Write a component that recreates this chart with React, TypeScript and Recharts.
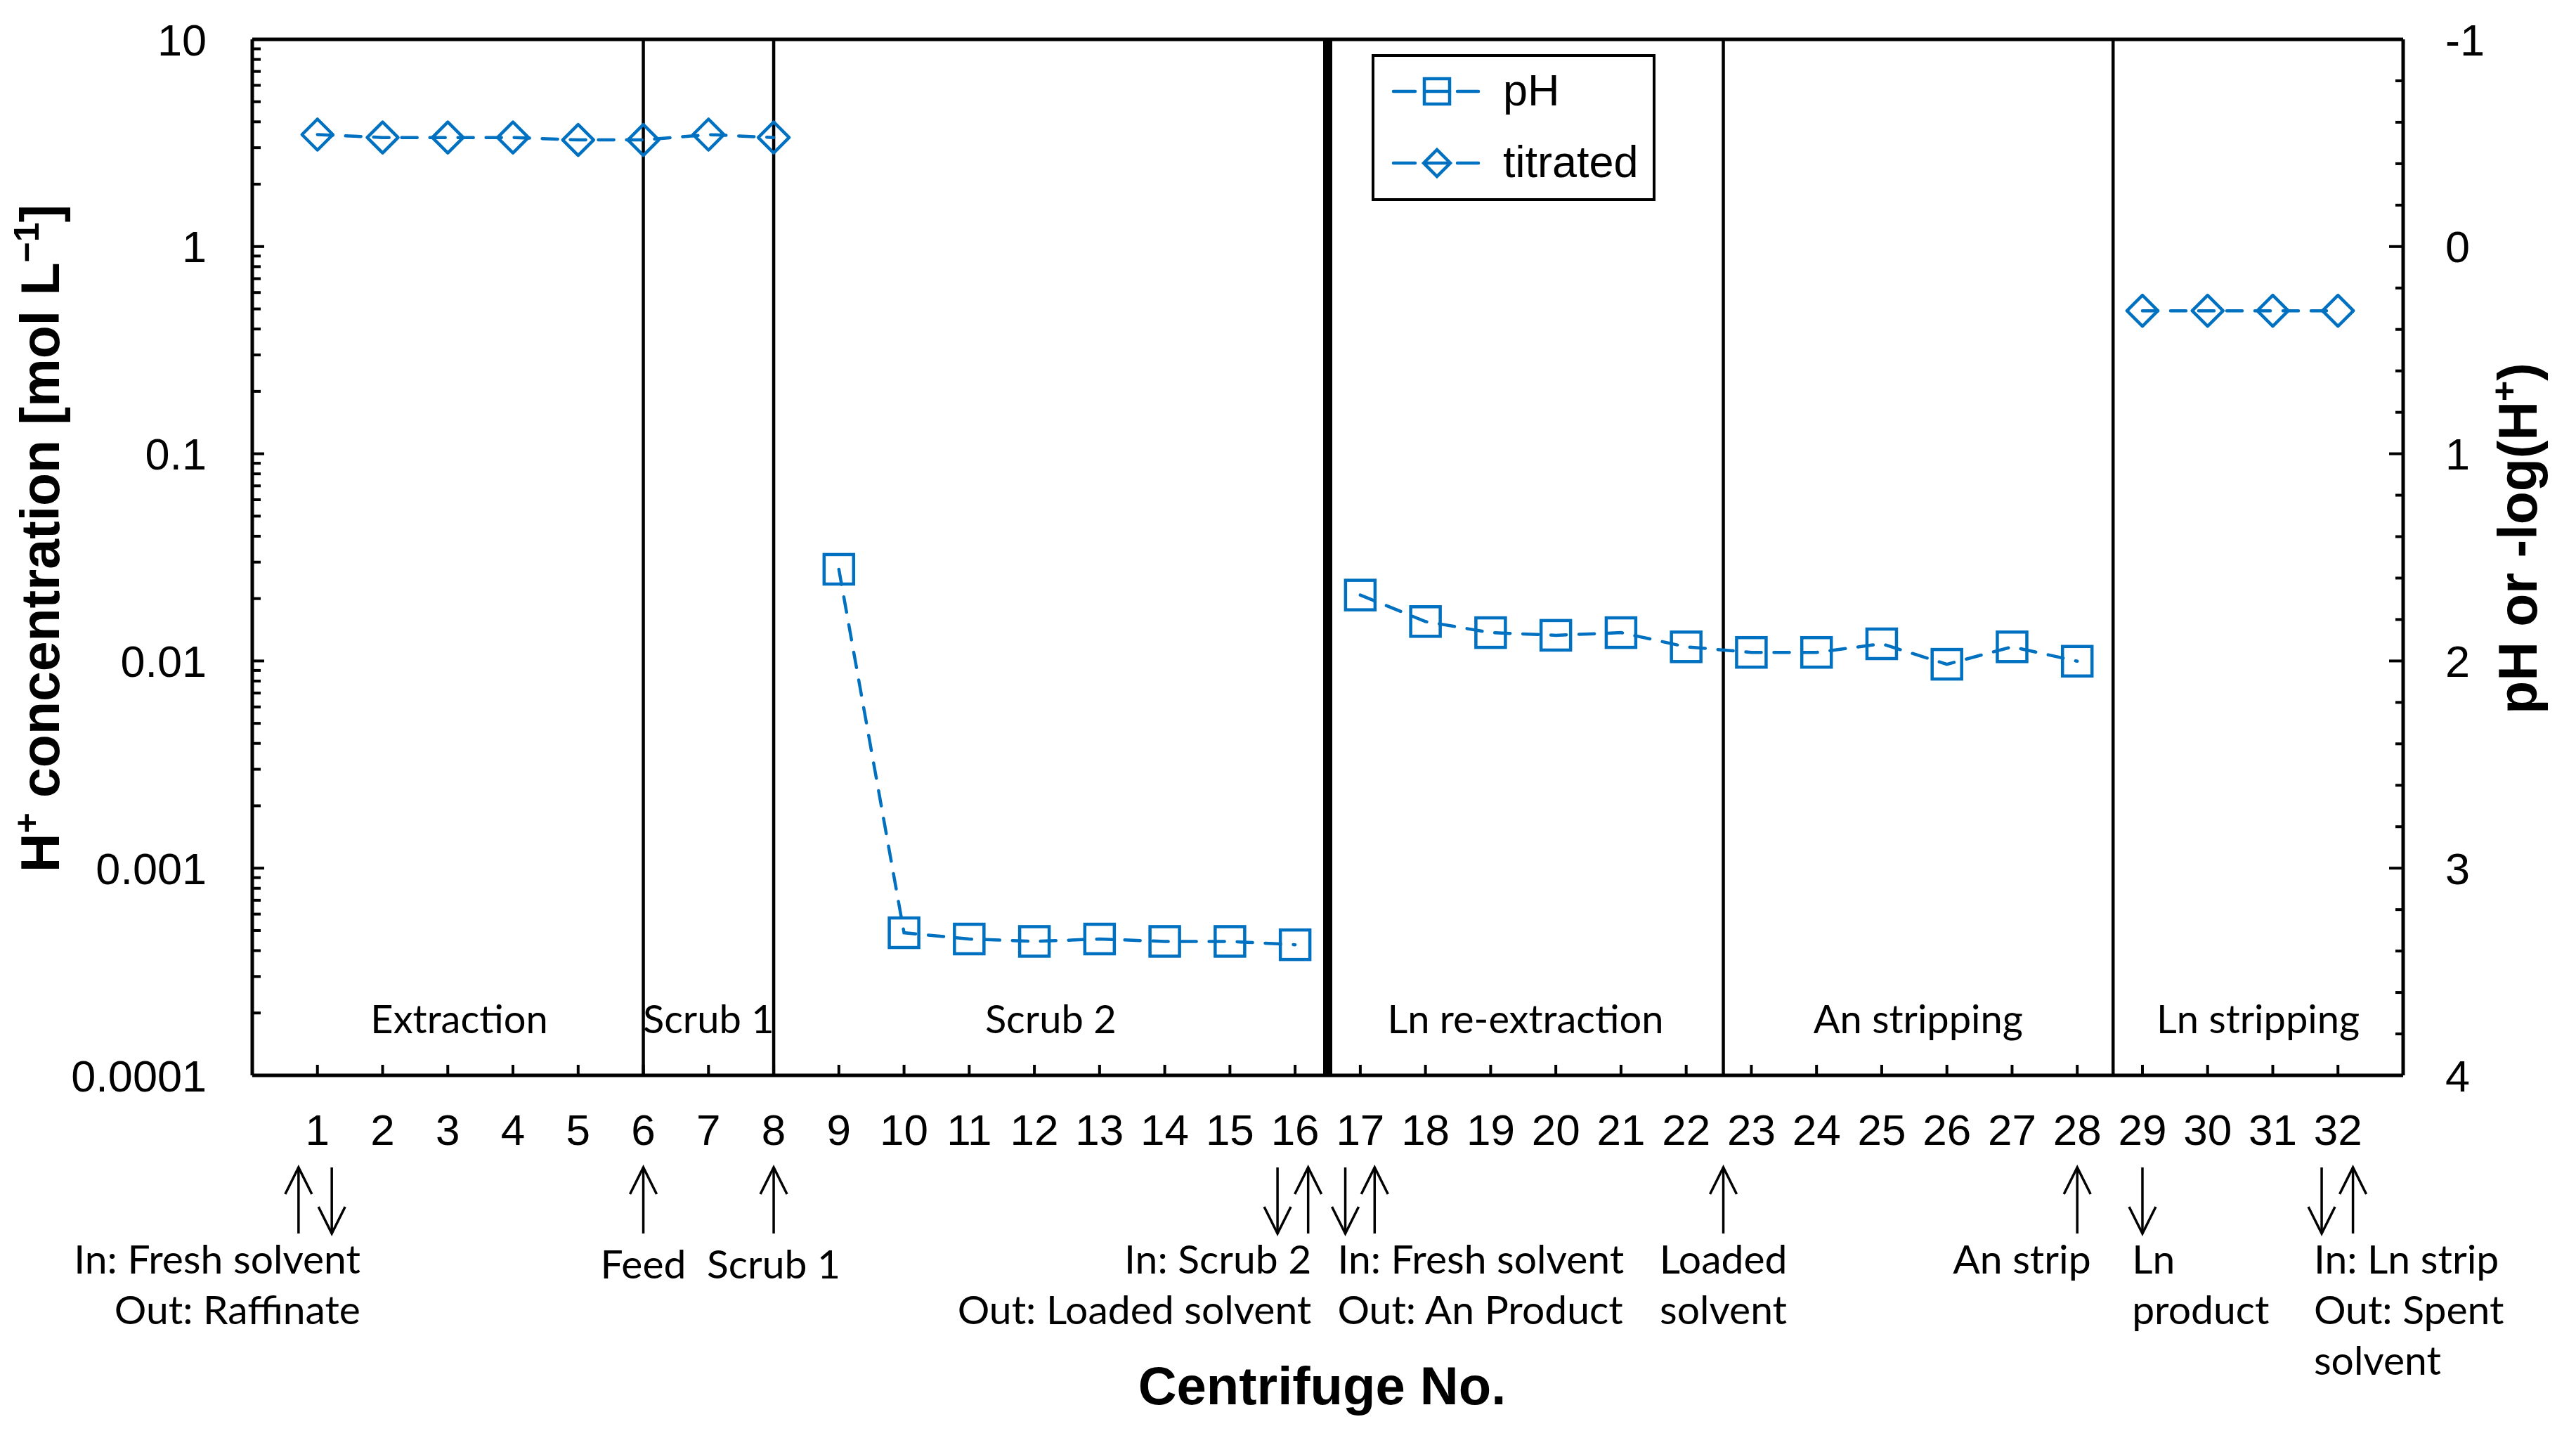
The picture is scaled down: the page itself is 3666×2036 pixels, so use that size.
import React from "react";
import {
  LineChart,
  Line,
  XAxis,
  YAxis,
  ReferenceLine,
  ReferenceArea,
  Legend,
} from "recharts";

// centrifuge numbers along the x axis
const centrifuges = [
  1, 2, 3, 4, 5, 6, 7, 8, 9, 10, 11, 12, 13, 14, 15, 16,
  17, 18, 19, 20, 21, 22, 23, 24, 25, 26, 27, 28, 29, 30, 31, 32,
];

// H+ from pH measurement [mol/L]
const pH = [
  null, null, null, null, null, null, null, null,
  0.0277, 0.000488, 0.000455, 0.000443, 0.000455, 0.000443, 0.000443, 0.000427,
  0.0208, 0.0155, 0.0137, 0.0133, 0.0137, 0.0117, 0.011, 0.011,
  0.0121, 0.00964, 0.0117, 0.00997, null, null, null, null,
];

// H+ from titration [mol/L]
const titrated = [
  3.47, 3.36, 3.36, 3.36, 3.27, 3.27, 3.47, 3.36,
  null, null, null, null, null, null, null, null,
  null, null, null, null, null, null, null, null,
  null, null, null, null, 0.49, 0.49, 0.49, 0.49,
];

const concTicks = [0.0001, 0.001, 0.01, 0.1, 1, 10];
const pHTicks = [-1, 0, 1, 2, 3, 4];

const stages = [
  { name: "Extraction", from: 0.35, to: 6 },
  { name: "Scrub 1", from: 6, to: 8 },
  { name: "Scrub 2", from: 8, to: 16.5 },
  { name: "Ln re-extraction", from: 16.5, to: 22.57 },
  { name: "An stripping", from: 22.57, to: 28.55 },
  { name: "Ln stripping", from: 28.55, to: 33 },
];
const dividers = [6, 8, 16.5, 22.57, 28.55];
const mainDivider = 16.5;

const flows = [
  { at: 0.71, dir: "up" },
  { at: 1.22, dir: "down" },
  { at: 6, dir: "up" },
  { at: 8, dir: "up" },
  { at: 15.73, dir: "down" },
  { at: 16.2, dir: "up" },
  { at: 16.77, dir: "down" },
  { at: 17.22, dir: "up" },
  { at: 22.57, dir: "up" },
  { at: 28, dir: "up" },
  { at: 29, dir: "down" },
  { at: 31.75, dir: "down" },
  { at: 32.23, dir: "up" },
];

const notes = [
  { at: 1.66, anchor: "end", lines: ["In: Fresh solvent", "Out: Raffinate"] },
  { at: 6, anchor: "middle", lines: ["Feed"], low: true },
  { at: 8, anchor: "middle", lines: ["Scrub 1"], low: true },
  { at: 16.25, anchor: "end", lines: ["In: Scrub 2", "Out: Loaded solvent"] },
  { at: 16.65, anchor: "start", lines: ["In: Fresh solvent", "Out: An Product"] },
  { at: 22.57, anchor: "middle", lines: ["Loaded", "solvent"] },
  { at: 28.21, anchor: "end", lines: ["An strip"] },
  { at: 28.84, anchor: "start", lines: ["Ln", "product"] },
  { at: 31.63, anchor: "start", lines: ["In: Ln strip", "Out: Spent", "solvent"] },
];

const W = 3666;
const H = 2036;
const BLUE = "#0070C0";
const ARIAL = "'Liberation Sans', Arial, sans-serif";
const CALIBRI = "Lato, 'Open Sans', sans-serif";
const LEFT_GAP = 65;
const RIGHT_GAP = 60;
const X_GAP = 55;

const concAllTicks = [
  ...concTicks,
  ...concTicks.slice(0, -1).flatMap((d) =>
    [2, 3, 4, 5, 6, 7, 8, 9].map((m) => d * m)
  ),
];
const pHAllTicks = Array.from({ length: 26 }, (_, i) => Math.round((-1 + i * 0.2) * 10) / 10);

const rows = centrifuges.map((n, i) => ({
  n,
  titrated: titrated[i],
  phScrub: n < mainDivider ? pH[i] : null,
  phStrip: n > mainDivider ? pH[i] : null,
}));

const SquareDot = (props: any) => {
  const { cx, cy, value } = props;
  if (cx == null || cy == null || value == null) return null;
  return (
    <rect x={cx - 21} y={cy - 21} width={42} height={42} fill="none" stroke={BLUE} strokeWidth={4.5} />
  );
};

const DiamondDot = (props: any) => {
  const { cx, cy, value } = props;
  if (cx == null || cy == null || value == null) return null;
  return (
    <polygon
      points={`${cx - 22},${cy} ${cx},${cy - 22} ${cx + 22},${cy} ${cx},${cy + 22}`}
      fill="none"
      stroke={BLUE}
      strokeWidth={4.5}
      strokeLinejoin="round"
    />
  );
};

const ConcTick = (props: any) => {
  const { x, y, payload } = props;
  const axisX = x + LEFT_GAP;
  const major = concTicks.includes(payload.value);
  return (
    <g>
      <line x1={axisX} x2={axisX + (major ? 17 : 12)} y1={y} y2={y} stroke="#000" strokeWidth={4} />
      {major && (
        <text x={x} y={y} dy="0.36em" textAnchor="end" fontFamily={ARIAL} fontSize={63} fill="#000">
          {String(payload.value)}
        </text>
      )}
    </g>
  );
};

const PHTick = (props: any) => {
  const { x, y, payload } = props;
  const axisX = x - RIGHT_GAP;
  const major = pHTicks.includes(payload.value);
  return (
    <g>
      <line x1={axisX} x2={axisX - (major ? 20 : 11)} y1={y} y2={y} stroke="#000" strokeWidth={4} />
      {major && (
        <text x={x} y={y} dy="0.36em" textAnchor="start" fontFamily={ARIAL} fontSize={63} fill="#000">
          {String(payload.value)}
        </text>
      )}
    </g>
  );
};

const CentTick = (props: any) => {
  const { x, y, payload } = props;
  const axisY = y - X_GAP;
  return (
    <g>
      <line x1={x} x2={x} y1={axisY} y2={axisY - 15} stroke="#000" strokeWidth={4} />
      <text x={x} y={y} dy="0.71em" textAnchor="middle" fontFamily={ARIAL} fontSize={62} fill="#000">
        {payload.value}
      </text>
    </g>
  );
};

const StageLabel = (props: any) => {
  const vb = props.viewBox || {};
  return (
    <text
      x={vb.x + vb.width / 2}
      y={vb.y + vb.height - 60}
      textAnchor="middle"
      fontFamily={CALIBRI}
      fontSize={56}
      fill="#000"
    >
      {props.name}
    </text>
  );
};

const FlowArrow = (props: any) => {
  const vb = props.viewBox || {};
  const x = vb.x;
  const base = vb.y + vb.height;
  const y1 = base + 131;
  const y2 = base + 225;
  const up = props.dir === "up";
  const tip = up ? y1 : y2;
  const s = up ? 1 : -1;
  return (
    <g stroke="#000" strokeWidth={3.5} fill="none">
      <line x1={x} y1={y1} x2={x} y2={y2} />
      <polyline points={`${x - 19},${tip + s * 38} ${x},${tip} ${x + 19},${tip + s * 38}`} />
    </g>
  );
};

const FlowNote = (props: any) => {
  const vb = props.viewBox || {};
  const base = vb.y + vb.height + (props.low ? 289 : 282);
  return (
    <text textAnchor={props.anchor} fontFamily={CALIBRI} fontSize={57} fill="#000">
      {props.lines.map((t: string, i: number) => (
        <tspan key={i} x={vb.x} y={base + i * 72}>
          {t}
        </tspan>
      ))}
    </text>
  );
};

const LeftTitle = (props: any) => {
  const vb = props.viewBox || {};
  const x = vb.x + 84;
  const y = vb.y + vb.height / 2 - 27;
  return (
    <text
      x={x}
      y={y}
      transform={`rotate(-90, ${x}, ${y})`}
      textAnchor="middle"
      fontFamily={ARIAL}
      fontWeight="bold"
      fontSize={77}
      fill="#000"
    >
      H<tspan dy={-29} fontSize={50}>+</tspan>
      <tspan dy={29}> concentration [mol L</tspan>
      <tspan dy={-29} fontSize={50}>−1</tspan>
      <tspan dy={29}>]</tspan>
    </text>
  );
};

const RightTitle = (props: any) => {
  const vb = props.viewBox || {};
  const x = vb.x + 190;
  const y = vb.y + vb.height / 2 - 27;
  return (
    <text
      x={x}
      y={y}
      transform={`rotate(-90, ${x}, ${y})`}
      textAnchor="middle"
      fontFamily={ARIAL}
      fontWeight="bold"
      fontSize={77}
      fill="#000"
    >
      pH or -log(H<tspan dy={-29} fontSize={50}>+</tspan>
      <tspan dy={29}>)</tspan>
    </text>
  );
};

const XTitle = (props: any) => {
  const vb = props.viewBox || {};
  return (
    <text
      x={vb.x + vb.width / 2 - 8}
      y={vb.y + 468}
      textAnchor="middle"
      fontFamily={ARIAL}
      fontWeight="bold"
      fontSize={76}
      fill="#000"
    >
      Centrifuge No.
    </text>
  );
};

const LegendBox = (props: any) => {
  const items = (props.payload || []).filter((p: any) => p.type !== "none");
  return (
    <svg width={404} height={209} style={{ display: "block" }}>
      <rect x={2} y={2} width={400} height={205} fill="#fff" stroke="#000" strokeWidth={4} />
      {items.map((p: any, i: number) => {
        const cy = 53 + i * 102;
        const cx = 93;
        return (
          <g key={p.value}>
            <g stroke={BLUE} strokeWidth={4.5} strokeLinecap="round">
              <line x1={31} x2={62} y1={cy} y2={cy} />
              <line x1={76} x2={111} y1={cy} y2={cy} />
              <line x1={122} x2={152} y1={cy} y2={cy} />
            </g>
            {p.value === "pH" ? (
              <rect x={cx - 18} y={cy - 18} width={36} height={36} fill="none" stroke={BLUE} strokeWidth={4.5} />
            ) : (
              <polygon
                points={`${cx - 19},${cy} ${cx},${cy - 19} ${cx + 19},${cy} ${cx},${cy + 19}`}
                fill="none"
                stroke={BLUE}
                strokeWidth={4.5}
              />
            )}
            <text x={187} y={cy + 20} fontFamily={ARIAL} fontSize={63} fill="#000">
              {p.value}
            </text>
          </g>
        );
      })}
    </svg>
  );
};

export default function App() {
  return (
    <div style={{ position: "absolute", left: 0, top: 0, width: W, height: H, background: "#fff" }}>
      <LineChart width={W} height={H} data={rows} margin={{ top: 56, right: 0, bottom: 0, left: 0 }}>
        <XAxis
          dataKey="n"
          type="number"
          domain={[0, 33]}
          ticks={centrifuges}
          interval={0}
          height={506}
          tickSize={0}
          tickMargin={X_GAP}
          tick={<CentTick />}
          axisLine={{ stroke: "#000", strokeWidth: 5 }}
          label={<XTitle />}
        />
        <YAxis
          yAxisId="left"
          scale="log"
          type="number"
          domain={[0.0001, 10]}
          allowDataOverflow
          ticks={concAllTicks}
          interval={0}
          width={359}
          tickSize={0}
          tickMargin={LEFT_GAP}
          tick={<ConcTick />}
          axisLine={{ stroke: "#000", strokeWidth: 5 }}
          label={<LeftTitle />}
        />
        <YAxis
          yAxisId="right"
          orientation="right"
          type="number"
          domain={[-1, 4]}
          reversed
          allowDataOverflow
          ticks={pHAllTicks}
          interval={0}
          width={246}
          tickSize={0}
          tickMargin={RIGHT_GAP}
          tick={<PHTick />}
          axisLine={{ stroke: "#000", strokeWidth: 5 }}
          label={<RightTitle />}
        />
        <ReferenceLine yAxisId="left" y={10} stroke="#000" strokeWidth={5} />
        {stages.map((s) => (
          <ReferenceArea
            key={s.name}
            yAxisId="left"
            x1={s.from}
            x2={s.to}
            fill="none"
            fillOpacity={0}
            stroke="none"
            label={<StageLabel name={s.name} />}
          />
        ))}
        {dividers.map((d) => (
          <ReferenceLine
            key={d}
            yAxisId="left"
            x={d}
            stroke="#000"
            strokeWidth={d === mainDivider ? 13 : 4.5}
          />
        ))}
        {flows.map((f, i) => (
          <ReferenceLine
            key={`f${i}`}
            yAxisId="left"
            x={f.at}
            stroke="none"
            label={<FlowArrow dir={f.dir} />}
          />
        ))}
        {notes.map((n, i) => (
          <ReferenceLine
            key={`n${i}`}
            yAxisId="left"
            x={n.at}
            stroke="none"
            label={<FlowNote anchor={n.anchor} lines={n.lines} low={n.low} />}
          />
        ))}
        <Line
          yAxisId="left"
          dataKey="phScrub"
          name="pH"
          stroke={BLUE}
          strokeWidth={4.5}
          strokeDasharray="22 18"
          strokeLinecap="round"
          dot={<SquareDot />}
          activeDot={false}
          isAnimationActive={false}
        />
        <Line
          yAxisId="left"
          dataKey="phStrip"
          name="pH"
          legendType="none"
          stroke={BLUE}
          strokeWidth={4.5}
          strokeDasharray="22 18"
          strokeLinecap="round"
          dot={<SquareDot />}
          activeDot={false}
          isAnimationActive={false}
        />
        <Line
          yAxisId="left"
          dataKey="titrated"
          name="titrated"
          stroke={BLUE}
          strokeWidth={4.5}
          strokeDasharray="22 18"
          strokeLinecap="round"
          dot={<DiamondDot />}
          activeDot={false}
          isAnimationActive={false}
        />
        <Legend
          content={<LegendBox />}
          verticalAlign="middle"
          align="center"
          width={404}
          height={209}
          wrapperStyle={{ left: 1952, top: 77, width: 404, height: 209 }}
        />
      </LineChart>
    </div>
  );
}
